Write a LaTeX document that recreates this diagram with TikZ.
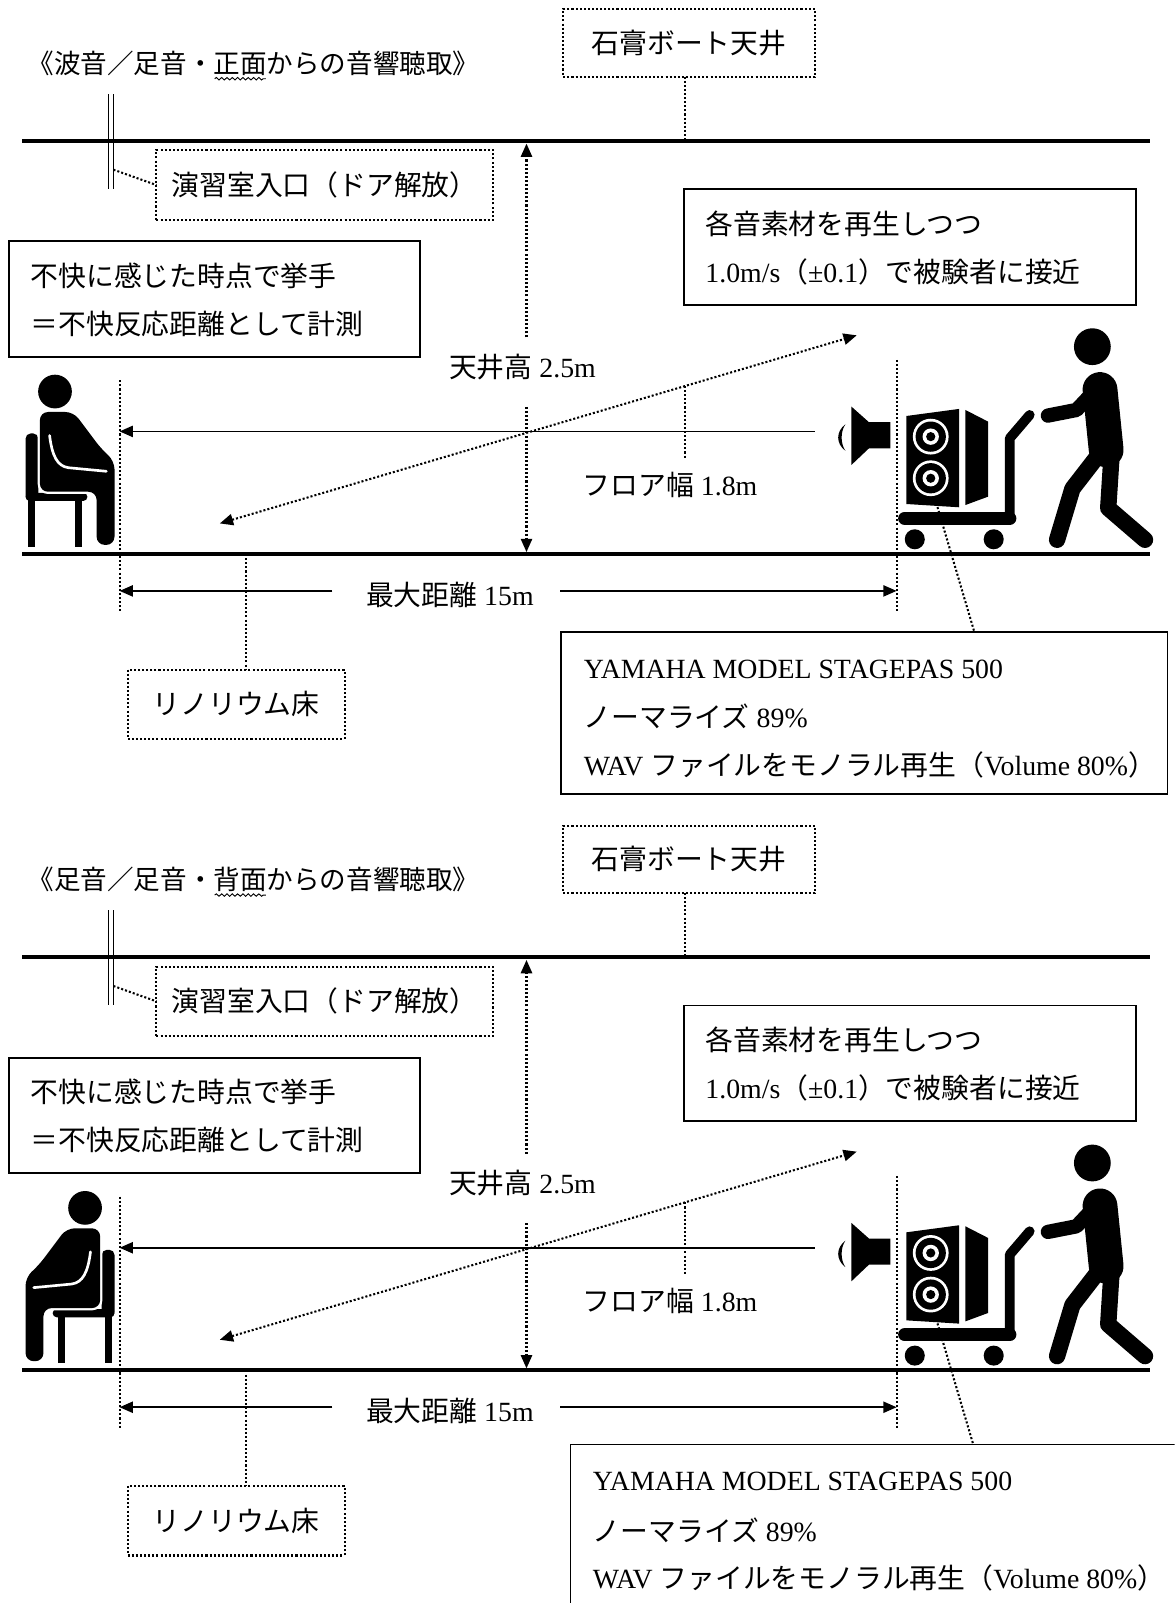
\documentclass[tikz,border=0pt]{standalone}
\usepackage{fontspec}
\setmainfont{Liberation Serif}
\newfontfamily\jp{Noto Sans CJK JP}
\usetikzlibrary{arrows.meta,decorations.pathmorphing,calc}

\tikzset{
  every node/.style={inner sep=0pt, outer sep=0pt},
  txt/.style={font=\fontsize{13.6}{16}\selectfont},
  ttl/.style={font=\fontsize{13}{16}\selectfont\jp},
  wall/.style={line width=2pt},
  thinln/.style={line width=0.8pt},
  dotln/.style={line width=1pt, dash pattern=on 1pt off 1pt},
  wh/.style 2 args={minimum width=#1*0.5pt, minimum height=#2*0.5pt},
  dotbox/.style={draw, dotln, rectangle},
  linebox/.style={draw, line width=0.9pt, rectangle},
  tip/.style={-{Triangle[length=6.5pt,width=5.5pt]}},
  tips/.style={{Triangle[length=6.5pt,width=5.5pt]}-{Triangle[length=6.5pt,width=5.5pt]}},
  limb/.style={line cap=round, line join=round},
}

% seated listener on a chair, facing +x
\newcommand\SeatedFig{%
  \fill[rounded corners=2.5pt] (25,424) rectangle (37.5,490);
  \fill[rounded corners=2pt] (25,482) rectangle (85.5,490);
  \fill (27.5,489) rectangle (34,535);
  \fill (73.5,489) rectangle (80,535);
  \draw[white, line width=2.2pt, rounded corners=4pt]
    (39,450) -- (39,403) -- (72,403) -- (99,439) -- (112,451) -- (112,533)
    -- (94.5,533) -- (94.5,481) -- (39,481) -- cycle;
  \fill[rounded corners=4pt]
    (39,450) -- (39,403) -- (72,403) -- (99,439) -- (112,451) -- (112,533)
    -- (94.5,533) -- (94.5,481) -- (39,481) -- cycle;
  \draw[white, line width=1.3pt, line cap=round]
    (48.5,426) .. controls (51,446) and (56,456) .. (67,457.5) -- (104,461);
  \fill (53.8,383) circle[radius=16.5];
}

% megaphone, speaker cabinet on a cart and the person pushing it
\newcommand\CartFig{%
  \fill (827,415) .. controls (817.5,422) and (817.5,434) .. (827,441)
        .. controls (822,434) and (822,422) .. (827,415) -- cycle;
  \fill (832.8,397.7) -- (850,413) -- (871,413) -- (871,438.5) -- (850,438.5)
        -- (832.8,454.8) -- cycle;
  \fill (886.6,406.9) -- (938.1,400) -- (938.1,496.2) -- (886.6,493) -- cycle;
  \fill (944.3,401) -- (966.5,412.4) -- (966.5,485.8) -- (944.3,494) -- cycle;
  \foreach \wy in {427.1,467.8}{%
    \fill[white] (910.4,\wy) circle[radius=17.5];
    \fill (910.4,\wy) circle[radius=14.8];
    \fill[white] (910.4,\wy) circle[radius=8];
    \fill (910.4,\wy) circle[radius=4.5];
  }
  \draw[line width=6.5pt, line cap=round] (885,507) -- (987.7,507);
  \draw[line width=4.8pt, limb] (987.7,505) -- (987.7,428.7) -- (1007.2,405.9);
  \fill (894.8,527.5) circle[radius=9.8];
  \fill (972,527.5) circle[radius=9.8];
  \fill (1068.5,339.1) circle[radius=18];
  \draw[line width=17pt, limb] (1076,381) -- (1082,440);
  \draw[line width=7pt, limb] (1069,384) -- (1053,401) -- (1025,406.5);
  \draw[line width=8pt, limb] (1073,447) -- (1049,478) -- (1034,528);
  \draw[line width=8pt, limb] (1087,450) -- (1084,497) -- (1120,528);
}

% one room section: #1 name prefix, #2-#4 heading split around the wavy-underlined word
\newcommand\RoomPanel[4]{%
  \node[ttl, anchor=base west] (#1t1) at (27,72) {#2};
  \node[ttl, anchor=base west] (#1t2) at (#1t1.base east) {#3};
  \node[ttl, anchor=base west] (#1t3) at (#1t2.base east) {#4};
  \draw[line width=0.45pt, decorate, decoration={snake, amplitude=0.6pt, segment length=2.6pt}]
    ($(#1t2.base west)+(1,5)$) -- ($(#1t2.base east)+(-1,5)$);
  % ceiling
  \coordinate (#1ceilL) at (22,138);
  \coordinate (#1ceilR) at (1125,138);
  \draw[wall] (#1ceilL) -- (#1ceilR);
  \node[dotbox, wh={246}{66}, txt] (#1gypbox) at (674,42) {\jp 石膏ボート天井};
  \coordinate (#1gypL) at (670,75);
  \draw[dotln] (#1gypL) -- (#1gypL |- #1ceilL);
  % entrance door
  \coordinate (#1doorT) at (108.5,92);
  \coordinate (#1doorB) at (108.5,185);
  \coordinate (#1doorM) at (111,166);
  \draw[line width=0.7pt] ([xshift=-1.25pt]#1doorT) -- ([xshift=-1.25pt]#1doorB);
  \draw[line width=0.7pt] ([xshift=1.25pt]#1doorT) -- ([xshift=1.25pt]#1doorB);
  \node[dotbox, wh={329}{68}, txt] (#1doorbox) at (317.5,181) {\jp 演習室入口（ドア解放）};
  \draw[dotln] (#1doorM) -- (#1doorbox.west);
  % notes
  \node[linebox, wh={442}{113}] (#1appbox) at (890,241.5) {};
  \node[txt, anchor=west] (#1app1) at (690,219) {\jp 各音素材を再生しつつ};
  \node[txt, anchor=west] (#1app2) at (690,266) {1.0m/s{\jp （}±0.1{\jp ）で被験者に接近}};
  \node[linebox, wh={402}{113}] (#1disbox) at (210,292.5) {};
  \node[txt, anchor=west] (#1dis1) at (30,270) {\jp 不快に感じた時点で挙手};
  \node[txt, anchor=west] (#1dis2) at (30,317) {\jp ＝不快反応距離として計測};
  % ceiling height
  \node[txt] (#1hgt) at (511,359) {{\jp 天井高} 2.5m};
  \coordinate (#1hA) at (515,330);
  \coordinate (#1hT) at (515,140.5);
  \coordinate (#1hB) at (515,398);
  \coordinate (#1hF) at (515,540);
  \draw[dotln, tip] (#1hA) -- (#1hT);
  \draw[dotln, tip] (#1hB) -- (#1hF);
  % approach direction and floor width
  \coordinate (#1src) at (797,422);
  \coordinate (#1face) at (117,422);
  \draw[thinln, tip] (#1src) -- (#1face);
  \coordinate (#1dA) at (215,512);
  \coordinate (#1dB) at (838,328);
  \draw[dotln, tips] (#1dA) -- (#1dB);
  \coordinate (#1fwT) at (670,377.6);
  \coordinate (#1fwB) at (670,448);
  \draw[dotln] (#1fwT) -- (#1fwB);
  \node[txt, anchor=west] (#1fw) at (570,474) {{\jp フロア幅} 1.8m};
  % floor
  \coordinate (#1flL) at (22,542);
  \coordinate (#1flR) at (1125,542);
  \draw[wall] (#1flL) -- (#1flR);
  % distance
  \coordinate (#1pT) at (117,372);
  \coordinate (#1pB) at (117,600);
  \coordinate (#1sT) at (877,352);
  \coordinate (#1sB) at (877,600);
  \draw[dotln] (#1pT) -- (#1pB);
  \draw[dotln] (#1sT) -- (#1sB);
  \node[txt] (#1dist) at (440,582) {{\jp 最大距離} 15m};
  \coordinate (#1dL) at (325,578);
  \coordinate (#1dR) at (548,578);
  \draw[thinln, tip] (#1dL) -- (#1dL -| #1pT);
  \draw[thinln, tip] (#1dR) -- (#1dR -| #1sT);
  % floor material
  \node[dotbox, wh={212}{68}, txt] (#1linbox) at (231,689) {\jp リノリウム床};
  \coordinate (#1linT) at (241,542);
  \draw[dotln] (#1linT) -- (#1linT |- #1linbox.north);
  \CartFig
  \coordinate (#1cab) at (917,496);
}

\begin{document}
\begin{tikzpicture}[x=0.5pt,y=-0.5pt]
\useasboundingbox (0,0) rectangle (1149,1568);
\clip (0,0) rectangle (1149,1568);
\fill[white] (0,0) rectangle (1149,1568);

% front listening
\RoomPanel{a}{《波音／足音・}{正面}{からの音響聴取》}
\SeatedFig
\node[linebox, wh={593}{159}] (ayamabox) at (845.5,697.5) {};
\node[txt, anchor=west] (ay1) at (571,655) {YAMAHA MODEL STAGEPAS 500};
\node[txt, anchor=west] (ay2) at (571,701) {{\jp ノーマライズ} 89\%};
\node[txt, anchor=west] (ay3) at (571,748) {WAV {\jp ファイルをモノラル再生（}Volume 80\%{\jp ）}};
\coordinate (aylead) at (953,618);
\draw[dotln] (acab) -- (aylead);

% rear listening
\begin{scope}[shift={(0,798.5)}]
\RoomPanel{b}{《足音／足音・}{背面}{からの音響聴取》}
\begin{scope}[shift={(137,0)}, xscale=-1]
\SeatedFig
\end{scope}
\node[linebox, wh={617}{185.5}] (byamabox) at (866.5,707.25) {};
\node[txt, anchor=west] (by1) at (580,650.5) {YAMAHA MODEL STAGEPAS 500};
\node[txt, anchor=west] (by2) at (580,698.5) {{\jp ノーマライズ} 89\%};
\node[txt, anchor=west] (by3) at (580,744.5) {WAV {\jp ファイルをモノラル再生（}Volume 80\%{\jp ）}};
\coordinate (bylead) at (952,614.5);
\draw[dotln] (bcab) -- (bylead);
\end{scope}
\end{tikzpicture}
\end{document}
